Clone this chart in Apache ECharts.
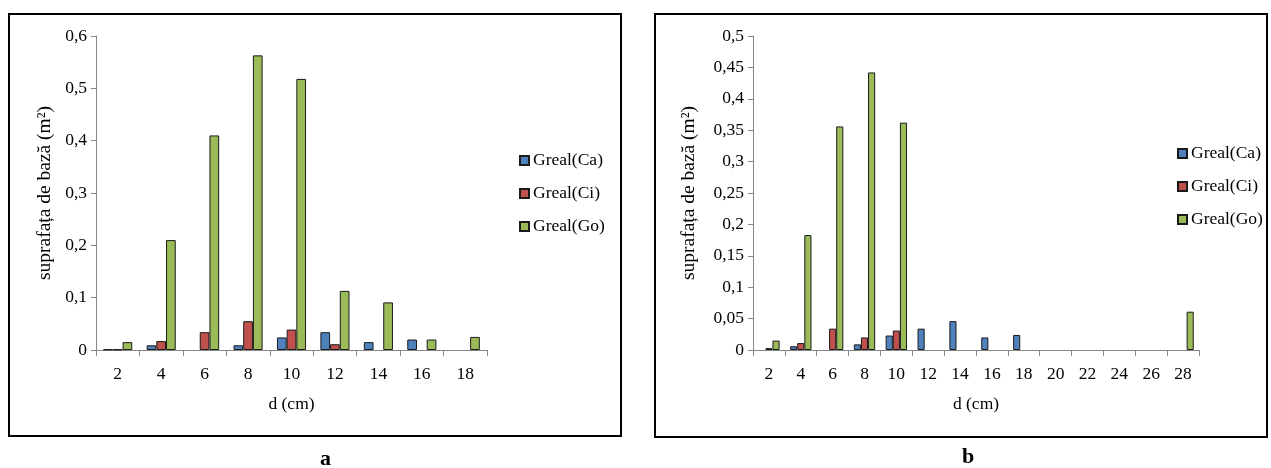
<!DOCTYPE html>
<html>
<head>
<meta charset="utf-8">
<script src="https://cdn.jsdelivr.net/npm/echarts@6/dist/echarts.min.js"></script>
<style>
html,body{margin:0;padding:0;background:#fff;}
#c{width:1271px;height:468px;}
</style>
</head>
<body>
<div id="c"></div>
<script>
// ---- Data ----
var seriesNames = ['Greal(Ca)', 'Greal(Ci)', 'Greal(Go)'];

// Chart a
var catsA = ['2', '4', '6', '8', '10', '12', '14', '16', '18'];
var caA = [0.001, 0.009, 0, 0.009, 0.024, 0.034, 0.015, 0.020, 0];
var ciA = [0.001, 0.017, 0.034, 0.055, 0.039, 0.011, 0, 0, 0];
var goA = [0.015, 0.210, 0.410, 0.563, 0.518, 0.113, 0.091, 0.020, 0.025];

// Chart b
var catsB = ['2', '4', '6', '8', '10', '12', '14', '16', '18', '20', '22', '24', '26', '28'];
var caB = [0, 0.006, 0, 0.009, 0.023, 0.034, 0.046, 0.020, 0.024, 0, 0, 0, 0, 0];
var ciB = [0.003, 0.011, 0.034, 0.020, 0.031, 0, 0, 0, 0, 0, 0, 0, 0, 0];
var goB = [0.015, 0.183, 0.356, 0.442, 0.362, 0, 0, 0, 0, 0, 0, 0, 0, 0.061];

var yTicksA = {min: 0, max: 0.6, interval: 0.1};
var yTicksB = {min: 0, max: 0.5, interval: 0.05};

var xTitle = 'd (cm)';
var yTitle = 'suprafața de bază (m²)';
var panelLabels = ['a', 'b'];

// ---- Styles ----
var colors = ['#4F81BD', '#C0504D', '#9BBB59'];
var FONT = '"Liberation Serif", "Times New Roman", serif';
var axisGray = '#868686';

function fmt(v) { return String(+v.toFixed(2)).replace('.', ','); }

function xAxis(gi, cats) {
  return {
    type: 'category', gridIndex: gi, data: cats,
    name: xTitle, nameLocation: 'middle', nameGap: 45,
    nameTextStyle: {fontFamily: FONT, fontSize: 17.5, color: '#000'},
    axisLine: {lineStyle: {color: axisGray, width: 1}},
    axisTick: {show: true, length: 6, lineStyle: {color: axisGray}},
    axisLabel: {fontFamily: FONT, fontSize: 17.5, color: '#000', margin: 15, interval: 0},
    splitLine: {show: false}
  };
}
function yAxis(gi, t, gap) {
  return {
    type: 'value', gridIndex: gi, min: t.min, max: t.max, interval: t.interval,
    name: yTitle, nameLocation: 'middle', nameGap: gap, nameRotate: 90,
    nameTextStyle: {fontFamily: FONT, fontSize: 19.5, color: '#000'},
    axisLine: {show: true, lineStyle: {color: axisGray, width: 1}},
    axisTick: {show: true, length: 5, lineStyle: {color: axisGray}},
    axisLabel: {fontFamily: FONT, fontSize: 17.5, color: '#000', margin: 9, formatter: fmt},
    splitLine: {show: false}
  };
}
function bars(gi, arrs) {
  return arrs.map(function (d, i) {
    return {
      name: seriesNames[i], type: 'bar', xAxisIndex: gi, yAxisIndex: gi,
      data: d.map(function (v) { return v === 0 ? '-' : v; }),
      barGap: '0%', barCategoryGap: '33%',
      itemStyle: {color: colors[i], borderColor: '#1a1a1a', borderWidth: 1},
      emphasis: {disabled: true}
    };
  });
}
function legend(left, top) {
  return {
    orient: 'vertical', left: left, top: top, icon: 'rect',
    itemWidth: 9, itemHeight: 9, itemGap: 14,
    data: seriesNames,
    selectedMode: false,
    textStyle: {fontFamily: FONT, fontSize: 17.5, color: '#000', padding: [0, 0, 0, -1], lineHeight: 19}
  };
}

var chart = echarts.init(document.getElementById('c'), null, {renderer: 'canvas'});
chart.setOption({
  animation: false,
  backgroundColor: '#fff',
  color: colors,
  grid: [
    {left: 96, top: 36, width: 391, height: 314, containLabel: false},
    {left: 753, top: 36, width: 446, height: 314, containLabel: false}
  ],
  xAxis: [xAxis(0, catsA), xAxis(1, catsB)],
  yAxis: [yAxis(0, yTicksA, 41), yAxis(1, yTicksB, 54)],
  legend: [legend(514, 146), legend(1172, 139)],
  series: bars(0, [caA, ciA, goA]).concat(bars(1, [caB, ciB, goB])),
  graphic: [
    {type: 'rect', shape: {x: 9, y: 14, width: 612, height: 422}, style: {fill: null, stroke: '#000', lineWidth: 2}, silent: true},
    {type: 'rect', shape: {x: 655, y: 14, width: 612, height: 423}, style: {fill: null, stroke: '#000', lineWidth: 2}, silent: true},
    {type: 'text', left: 320, top: 448, style: {text: panelLabels[0], font: 'bold 22px ' + FONT, fill: '#000'}},
    {type: 'text', left: 962, top: 446, style: {text: panelLabels[1], font: 'bold 22px ' + FONT, fill: '#000'}}
  ]
});
</script>
</body>
</html>
